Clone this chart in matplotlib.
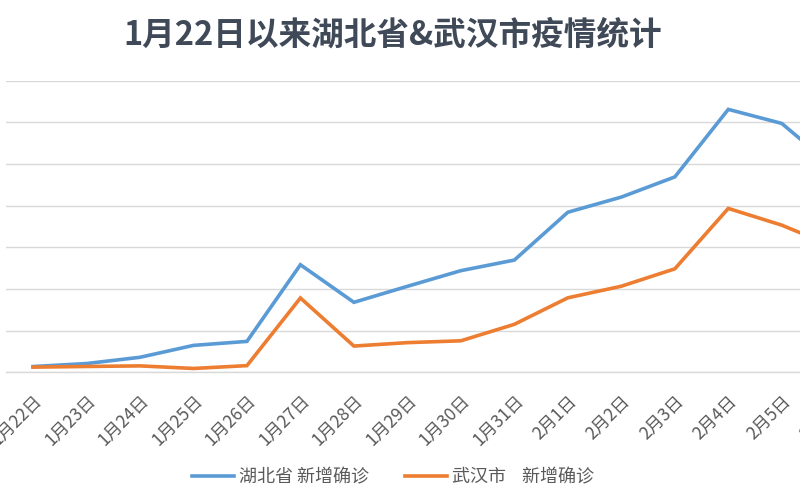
import matplotlib
matplotlib.use("Agg")
import matplotlib.pyplot as plt

plt.rcParams['font.family'] = ['Noto Sans CJK SC', 'DejaVu Sans']

dates = ["1月22日", "1月23日", "1月24日", "1月25日", "1月26日", "1月27日", "1月28日",
         "1月29日", "1月30日", "1月31日", "2月1日", "2月2日", "2月3日", "2月4日",
         "2月5日", "2月6日"]
hubei = [69, 105, 180, 323, 371, 1291, 840, 1032, 1220, 1347, 1921, 2103, 2345,
         3156, 2987, 2447]
wuhan = [62, 70, 77, 46, 80, 892, 315, 356, 378, 576, 894, 1033, 1242,
         1967, 1766, 1501]

title = "1月22日以来湖北省&武汉市疫情统计"
label_hubei = "湖北省 新增确诊"
label_wuhan = "武汉市    新增确诊"

blue = "#5B9BD5"
orange = "#ED7D31"
grid = "#D9D9D9"
txt = "#595959"
title_color = "#3F4957"

fig = plt.figure(figsize=(8, 5), dpi=100)
# plot area extends beyond the right edge (reference image is cropped)
ax = fig.add_axes([6.25 / 800, (500 - 372.3) / 500, (862 - 6.25) / 800, (372.3 - 80.7) / 500])

x = list(range(len(dates)))
l1, = ax.plot(x, hubei, color=blue, lw=2.6, solid_joinstyle='miter', label=label_hubei)
l2, = ax.plot(x, wuhan, color=orange, lw=2.6, solid_joinstyle='miter', label=label_wuhan)

ax.set_xlim(-0.5, len(dates) - 0.5)
ax.set_ylim(0, 3500)
ax.set_yticks(range(0, 3501, 500))
ax.yaxis.grid(True, color=grid, lw=1)
ax.set_axisbelow(True)
ax.tick_params(axis='y', left=False, labelleft=False)
ax.tick_params(axis='x', length=0, pad=14, colors=txt)
ax.set_xticks(x)
ax.set_xticklabels(dates, rotation=45, ha='right', rotation_mode='anchor', fontsize=12.5, color=txt)
for s in ['top', 'right', 'left']:
    ax.spines[s].set_visible(False)
ax.spines['bottom'].set_color(grid)
ax.spines['bottom'].set_linewidth(1)

fig.text(393 / 800, 1 - 35 / 500, title, ha='center', va='center', fontsize=23.5,
         fontweight='bold', color=title_color)

fig.legend(handles=[l1, l2], loc='center', bbox_to_anchor=(393 / 800, 1 - 477 / 500),
           ncol=2, frameon=False, fontsize=13, handlelength=2.3, columnspacing=2.0,
           handletextpad=0.3, labelcolor=txt)

fig.savefig("out.png", dpi=100)
